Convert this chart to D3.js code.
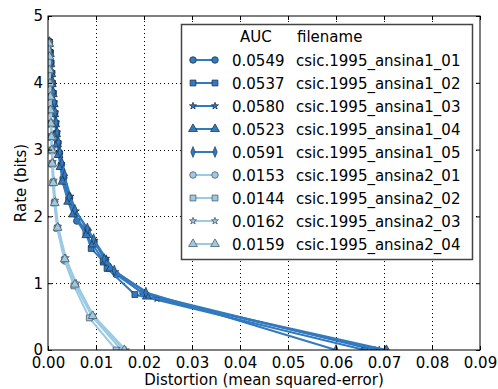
<!DOCTYPE html>
<html>
<head>
<meta charset="utf-8">
<script src="https://cdn.jsdelivr.net/npm/d3@7"></script>
<style>
  body { margin: 0; background: #fff; }
  text { font-family: "DejaVu Sans", sans-serif; fill: #000; }
</style>
</head>
<body>
<div id="container"></div>
<script>
// ---- data ----
const filenames = [
  "csic.1995_ansina1_01", "csic.1995_ansina1_02", "csic.1995_ansina1_03",
  "csic.1995_ansina1_04", "csic.1995_ansina1_05",
  "csic.1995_ansina2_01", "csic.1995_ansina2_02", "csic.1995_ansina2_03",
  "csic.1995_ansina2_04"
];
const aucs = ["0.0549", "0.0537", "0.0580", "0.0523", "0.0591", "0.0153", "0.0144", "0.0162", "0.0159"];
const markers = ["circle", "square", "star", "triangle", "diamond", "circle", "square", "star", "triangle"];
const groups = [1, 1, 1, 1, 1, 2, 2, 2, 2];

const distortion = [
  [0.0003, 0.0005, 0.0006, 0.0008, 0.0009, 0.0011, 0.0012, 0.0014, 0.0016, 0.0018, 0.0021, 0.0024, 0.0028, 0.0033, 0.0045, 0.0060, 0.0082, 0.0096, 0.0120, 0.0142, 0.0198, 0.0680],
  [0.0003, 0.0004, 0.0006, 0.0007, 0.0009, 0.0010, 0.0012, 0.0014, 0.0016, 0.0018, 0.0020, 0.0023, 0.0027, 0.0031, 0.0043, 0.0055, 0.0079, 0.0090, 0.0115, 0.0123, 0.0181, 0.0660],
  [0.0003, 0.0005, 0.0006, 0.0008, 0.0009, 0.0011, 0.0013, 0.0015, 0.0017, 0.0019, 0.0021, 0.0024, 0.0028, 0.0034, 0.0047, 0.0058, 0.0084, 0.0097, 0.0121, 0.0140, 0.0227, 0.0690],
  [0.0002, 0.0004, 0.0005, 0.0007, 0.0008, 0.0010, 0.0012, 0.0013, 0.0015, 0.0017, 0.0019, 0.0022, 0.0026, 0.0030, 0.0042, 0.0052, 0.0080, 0.0093, 0.0118, 0.0130, 0.0206, 0.0705],
  [0.0003, 0.0005, 0.0007, 0.0008, 0.0010, 0.0011, 0.0013, 0.0015, 0.0017, 0.0019, 0.0022, 0.0025, 0.0029, 0.0035, 0.0044, 0.0056, 0.0082, 0.0095, 0.0117, 0.0138, 0.0204, 0.0600],
  [0.0002, 0.0003, 0.0003, 0.0004, 0.0005, 0.0005, 0.0006, 0.0007, 0.0008, 0.0009, 0.0011, 0.0014, 0.0020, 0.0036, 0.0057, 0.0092, 0.0153],
  [0.0002, 0.0002, 0.0003, 0.0004, 0.0004, 0.0005, 0.0006, 0.0007, 0.0008, 0.0009, 0.0010, 0.0013, 0.0019, 0.0034, 0.0054, 0.0086, 0.0142],
  [0.0002, 0.0003, 0.0004, 0.0004, 0.0005, 0.0006, 0.0007, 0.0008, 0.0009, 0.0010, 0.0012, 0.0015, 0.0021, 0.0037, 0.0059, 0.0094, 0.0162],
  [0.0002, 0.0003, 0.0003, 0.0004, 0.0005, 0.0005, 0.0006, 0.0007, 0.0008, 0.0009, 0.0011, 0.0014, 0.0020, 0.0035, 0.0056, 0.0093, 0.0159]
];
const rate = [
  [4.62, 4.46, 4.30, 4.15, 4.00, 3.85, 3.70, 3.55, 3.40, 3.25, 3.10, 2.95, 2.78, 2.58, 2.28, 1.93, 1.80, 1.62, 1.35, 1.13, 0.85, 0],
  [4.60, 4.45, 4.30, 4.14, 3.99, 3.84, 3.69, 3.54, 3.39, 3.24, 3.09, 2.93, 2.75, 2.55, 2.25, 2.05, 1.75, 1.52, 1.33, 1.22, 0.83, 0],
  [4.63, 4.47, 4.31, 4.16, 4.01, 3.86, 3.71, 3.56, 3.41, 3.26, 3.11, 2.96, 2.79, 2.60, 2.30, 2.08, 1.78, 1.64, 1.37, 1.17, 0.77, 0],
  [4.58, 4.43, 4.28, 4.13, 3.98, 3.83, 3.68, 3.53, 3.38, 3.23, 3.08, 2.92, 2.74, 2.52, 2.22, 2.03, 1.72, 1.58, 1.31, 1.22, 0.80, 0],
  [4.61, 4.46, 4.31, 4.16, 4.01, 3.86, 3.71, 3.56, 3.41, 3.26, 3.11, 2.96, 2.80, 2.62, 2.29, 2.10, 1.82, 1.66, 1.36, 1.19, 0.86, 0],
  [4.60, 4.40, 4.20, 4.00, 3.80, 3.60, 3.40, 3.20, 3.00, 2.80, 2.52, 2.22, 1.84, 1.33, 0.98, 0.50, 0],
  [4.58, 4.38, 4.18, 3.98, 3.78, 3.58, 3.38, 3.18, 2.98, 2.78, 2.50, 2.20, 1.82, 1.35, 0.96, 0.48, 0],
  [4.62, 4.42, 4.22, 4.02, 3.82, 3.62, 3.42, 3.22, 3.02, 2.82, 2.54, 2.24, 1.85, 1.38, 1.00, 0.52, 0],
  [4.59, 4.39, 4.19, 3.99, 3.79, 3.59, 3.39, 3.19, 2.99, 2.79, 2.50, 2.20, 1.83, 1.36, 0.98, 0.51, 0]
];
const xTicks = [0, 0.01, 0.02, 0.03, 0.04, 0.05, 0.06, 0.07, 0.08, 0.09];
const yTicks = [0, 1, 2, 3, 4, 5];

// ---- layout ----
const width = 498, height = 389,
  margin = { top: 16, right: 18, bottom: 39, left: 48 };
const lineColor = { 1: "#3279be", 2: "#9ccae3" };
const edgeColor = { 1: "#1f3550", 2: "#4d5d68" };

const svg = d3.select("#container").append("svg")
  .attr("width", width).attr("height", height);

const x = d3.scaleLinear().domain([0, 0.09]).range([margin.left, width - margin.right]);
const y = d3.scaleLinear().domain([0, 5]).range([height - margin.bottom, margin.top]);

svg.append("defs").append("clipPath").attr("id", "plot")
  .append("rect")
  .attr("x", x(0)).attr("y", y(5))
  .attr("width", x(0.09) - x(0)).attr("height", y(0) - y(5));

// grid
const grid = svg.append("g").attr("stroke", "#000").attr("stroke-width", 1)
  .attr("stroke-dasharray", "1,3");
grid.selectAll("line.gx").data(xTicks.slice(1, -1)).join("line")
  .attr("x1", d => Math.round(x(d)) + 0.5).attr("x2", d => Math.round(x(d)) + 0.5)
  .attr("y1", y(0)).attr("y2", y(5));
grid.selectAll("line.gy").data(yTicks.slice(1, -1)).join("line")
  .attr("y1", d => Math.round(y(d)) + 0.5).attr("y2", d => Math.round(y(d)) + 0.5)
  .attr("x1", x(0)).attr("x2", x(0.09));

function symbolPath(kind, size) {
  if (kind === "circle") return d3.symbol(d3.symbolCircle, size)();
  if (kind === "square") return d3.symbol(d3.symbolSquare, size)();
  if (kind === "star") return d3.symbol(d3.symbolStar, size * 0.45)();
  if (kind === "triangle") return d3.symbol(d3.symbolTriangle, size)();
  return d3.symbol(d3.symbolDiamond, size)();
}

const line = d3.line().x(d => x(d[0])).y(d => y(d[1]));

const plot = svg.append("g").attr("clip-path", "url(#plot)");
filenames.forEach((name, i) => {
  const pts = distortion[i].map((d, j) => [d, rate[i][j]]);
  const g = plot.append("g");
  g.append("path").datum(pts)
    .attr("fill", "none")
    .attr("stroke", lineColor[groups[i]])
    .attr("stroke-width", 2)
    .attr("d", line);
  g.selectAll("path.m").data(pts).join("path")
    .attr("class", "m")
    .attr("transform", d => `translate(${x(d[0])},${y(d[1])})` + (markers[i] === "diamond" ? " scale(0.7,1)" : ""))
    .attr("d", symbolPath(markers[i], 34))
    .attr("fill", lineColor[groups[i]])
    .attr("stroke", edgeColor[groups[i]])
    .attr("stroke-width", 0.8);
});

// axes frame with inward ticks on all sides
const frame = svg.append("g");
frame.append("rect")
  .attr("x", x(0)).attr("y", y(5))
  .attr("width", x(0.09) - x(0)).attr("height", y(0) - y(5))
  .attr("fill", "none").attr("stroke", "#000").attr("stroke-width", 1);

const xAxisB = d3.axisBottom(x).tickValues(xTicks).tickFormat(d3.format(".2f")).tickSizeInner(-4).tickSizeOuter(0).tickPadding(7);
const xAxisT = d3.axisTop(x).tickValues(xTicks).tickFormat("").tickSizeInner(-4).tickSizeOuter(0);
const yAxisL = d3.axisLeft(y).tickValues(yTicks).tickFormat(d3.format("d")).tickSizeInner(-4).tickSizeOuter(0).tickPadding(5);
const yAxisR = d3.axisRight(y).tickValues(yTicks).tickFormat("").tickSizeInner(-4).tickSizeOuter(0);

function styleAxis(g) {
  g.select(".domain").remove();
  g.selectAll(".tick line").attr("stroke", "#000");
  g.selectAll(".tick text").attr("font-size", 15).attr("font-family", "DejaVu Sans");
}
svg.append("g").attr("transform", `translate(0,${y(0)})`).call(xAxisB).call(styleAxis);
svg.append("g").attr("transform", `translate(0,${y(5)})`).call(xAxisT).call(styleAxis);
svg.append("g").attr("transform", `translate(${x(0)},0)`).call(yAxisL).call(styleAxis);
svg.append("g").attr("transform", `translate(${x(0.09)},0)`).call(yAxisR).call(styleAxis);

svg.append("text")
  .attr("x", (x(0) + x(0.09)) / 2).attr("y", 385)
  .attr("text-anchor", "middle").attr("font-size", 15)
  .text("Distortion (mean squared-error)");
svg.append("text")
  .attr("transform", `translate(26,${(y(0) + y(5)) / 2}) rotate(-90)`)
  .attr("text-anchor", "middle").attr("font-size", 15)
  .text("Rate (bits)");

// legend
const legend = svg.append("g");
legend.append("rect")
  .attr("x", 181.5).attr("y", 24.5).attr("width", 291).attr("height", 235)
  .attr("fill", "#fff").attr("stroke", "#444").attr("stroke-width", 1.5);
legend.append("text").attr("x", 240).attr("y", 42).attr("font-size", 15).text("AUC");
legend.append("text").attr("x", 297).attr("y", 42).attr("font-size", 15).text("filename");

const rowY = d3.scaleLinear().domain([0, 8]).range([60, 244]);
filenames.forEach((name, i) => {
  const ry = rowY(i);
  const row = legend.append("g");
  row.append("line")
    .attr("x1", 193).attr("x2", 215).attr("y1", ry).attr("y2", ry)
    .attr("stroke", lineColor[groups[i]]).attr("stroke-width", 2);
  [193, 215].forEach(mx => {
    row.append("path")
      .attr("transform", `translate(${mx},${ry})` + (markers[i] === "diamond" ? " scale(0.7,1)" : ""))
      .attr("d", symbolPath(markers[i], 34))
      .attr("fill", lineColor[groups[i]])
      .attr("stroke", edgeColor[groups[i]])
      .attr("stroke-width", 0.8);
  });
  row.append("text").attr("x", 232).attr("y", ry + 5.5).attr("font-size", 15).text(aucs[i]);
  row.append("text").attr("x", 296).attr("y", ry + 5.5).attr("font-size", 15).text(name);
});
</script>
</body>
</html>
